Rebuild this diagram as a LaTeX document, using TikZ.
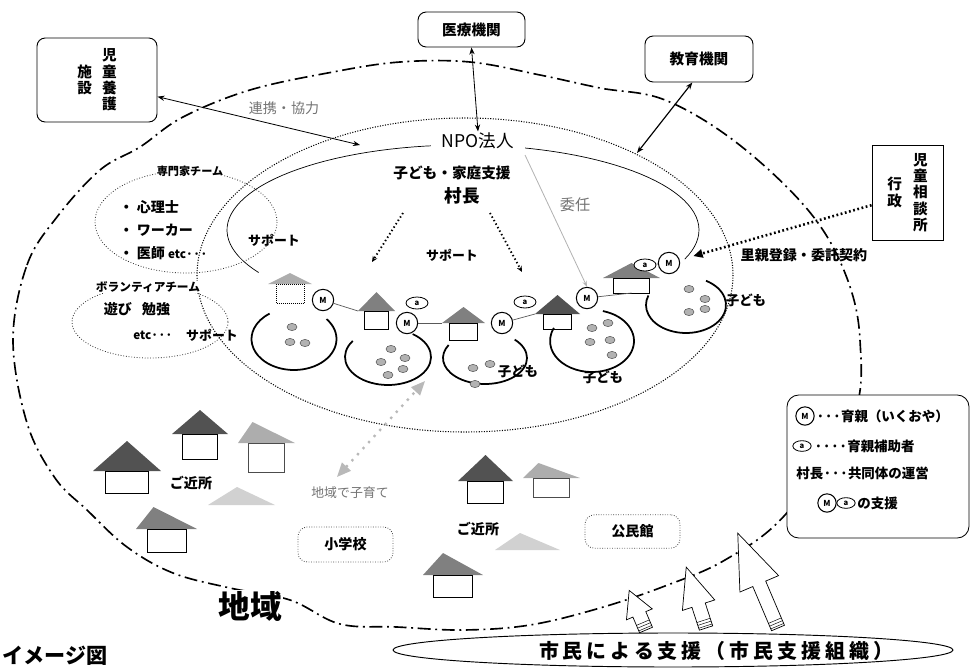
\documentclass[tikz,border=0pt]{standalone}
\usepackage{fontspec}
\setmainfont{Noto Sans CJK JP}
\usetikzlibrary{shapes.geometric,arrows.meta,positioning}

\definecolor{roofdark}{gray}{0.32}
\definecolor{roofmid}{gray}{0.5}
\definecolor{rooflight}{gray}{0.68}
\definecolor{roofpale}{gray}{0.82}
\definecolor{textgray}{gray}{0.45}

% house: name, eave left x, eave y, width, roof height, body height, apex shift, roof colour, body line
\newcommand{\house}[9]{%
  \fill[#8] (#2,#3) -- (#2+#4/2+#7,#3-#5) -- (#2+#4,#3) -- cycle;
  \draw[#9] (#2+0.18*#4,#3) rectangle ++(0.64*#4,#6);
  \coordinate (#1-l) at (#2,#3);
  \coordinate (#1-b) at (#2+0.5*#4,#3+#6);
}
% vertical column of characters
\newcommand{\tate}[1]{\parbox[c]{1em}{\centering #1}}

\tikzset{
  kikan/.style={draw, line width=0.8pt, rounded corners=7pt, fill=white, font=\bfseries\fontsize{12.5}{14}\selectfont},
  shisetsu/.style={draw=gray!60!black, line width=0.7pt, dash pattern=on 0.7pt off 1.4pt, rounded corners=8pt, font=\bfseries\fontsize{12}{14}\selectfont},
  lbl/.style={font=\bfseries\fontsize{11}{13}\selectfont, inner sep=1pt},
  grylbl/.style={font=\fontsize{12}{14}\selectfont, text=textgray, inner sep=1pt},
  oya/.style={circle, draw, line width=0.9pt, fill=white, inner sep=0pt, minimum size=0.64cm, font=\bfseries\fontsize{7}{7}\selectfont},
  hojo/.style={ellipse, draw, line width=0.7pt, fill=white, inner sep=0pt, minimum width=0.66cm, minimum height=0.36cm, font=\bfseries\fontsize{6.5}{7}\selectfont},
  link/.style={{Stealth[length=6pt,width=4.5pt]}-{Stealth[length=6pt,width=4.5pt]}, line width=0.7pt},
  dotarrow/.style={line width=1.6pt, dash pattern=on 1.2pt off 2.2pt, -{Stealth[length=5pt,width=4.5pt]}},
  heavydot/.style={line width=2.2pt, dash pattern=on 1.5pt off 2.2pt, -{Triangle[length=8pt,width=7pt]}, shorten >=12pt},
  ring/.style={line width=1.5pt},
  kid/.style={fill=gray!60, draw=black!70, line width=0.4pt},
  tie/.style={gray!70!black, line width=0.6pt},
  chiiki/.style={line width=1.4pt, dash pattern=on 11pt off 4pt on 1.6pt off 4pt},
  npoline/.style={line width=0.9pt, dash pattern=on 0.9pt off 1.3pt},
  team/.style={line width=0.7pt, dash pattern=on 0.7pt off 1.6pt, gray!40!black},
}

\begin{document}
\begin{tikzpicture}[x=0.03cm, y=-0.03cm]
\useasboundingbox (0,0) rectangle (971,670);

% community boundary
\draw[chiiki] plot[smooth cycle, tension=0.6] coordinates {
  (13,340) (27,265) (57,217) (100,170) (140,147) (183,117) (250,90) (333,72)
  (400,62) (470,62) (540,75) (600,88) (665,100) (737,143) (808,210)
  (845,273) (860,340) (852,420) (785,515) (725,560) (665,586) (600,608)
  (530,625) (463,630) (397,627) (340,624) (290,600) (230,588) (173,573)
  (127,547) (87,510) (55,478) (27,423)};

% NPO and village
\draw[npoline] (465,275) ellipse [x radius=268, y radius=157];
\draw[line width=0.6pt] plot[domain=-20:210, samples=80] ({463+236*cos(\x)}, {230-85*sin(\x)});

% teams
\draw[team] (186,222) ellipse [x radius=91, y radius=51];
\draw[team] (150,322) ellipse [x radius=78, y radius=36];

% outside bodies
\node[kikan, minimum width=3.6cm, minimum height=2.52cm] (yogo) at (97,80) {\tate{施\\設}\hspace{0.3cm}\tate{児\\童\\養\\護}};
\node[kikan, minimum width=3.21cm, minimum height=1.05cm] (iryo) at (471.5,29.5) {医療機関};
\node[kikan, minimum width=3.24cm, minimum height=1.38cm] (kyoiku) at (699,59) {教育機関};
\node[kikan, rounded corners=0pt, minimum width=2.13cm, minimum height=2.85cm] (jiso) at (907.5,192.5) {\tate{行\\政}\hspace{0.33cm}\tate{児\\童\\相\\談\\所}};

% NPO text
\node[font=\fontsize{15}{17}\selectfont, fill=white, inner xsep=9pt, inner ysep=1pt] (npo) at (478,141) {NPO法人};
\node[lbl, font=\bfseries\fontsize{12.5}{14}\selectfont] (shien) at (452,173) {子ども・家庭支援};
\node[lbl, font=\bfseries\fontsize{15}{17}\selectfont] (soncho) at (462,196) {村長};
\node[grylbl] (renkei) at (284,108) {連携・協力};
\node[grylbl, font=\fontsize{13}{15}\selectfont] (inin) at (575,205) {委任};
\node[lbl] (sapo) at (452,255) {サポート};

% specialist team
\node[lbl, font=\bfseries\fontsize{9.5}{11}\selectfont, fill=white] (senmon) at (190,171) {専門家チーム};
\node[lbl, anchor=west, font=\bfseries\fontsize{12}{14}\selectfont] (shinri) at (118,207) {・\hspace{0.1cm}心理士};
\node[lbl, anchor=west, font=\bfseries\fontsize{12}{14}\selectfont] (worker) at (118,230) {・\hspace{0.1cm}ワーカー};
\node[lbl, anchor=west, font=\bfseries\fontsize{12}{14}\selectfont] (ishi) at (118,253) {・\hspace{0.1cm}医師 {\fontsize{10}{12}\selectfont etc···}};
\node[lbl] (sapo-sen) at (274,240) {サポート};

% volunteer team
\node[lbl, font=\bfseries\fontsize{10}{12}\selectfont, fill=white, inner sep=0.5pt] (bora) at (148,287) {ボランティアチーム};
\node[lbl, font=\bfseries\fontsize{12}{14}\selectfont] (asobi) at (137,309) {遊び\hspace{0.3cm}勉強};
\node[lbl, font=\bfseries\fontsize{10}{12}\selectfont] (etc) at (153,335) {etc···};
\node[lbl] (sapo-bora) at (212,335) {サポート};

% foster homes
\house{h1}{268}{284}{44}{11}{19}{0}{rooflight}{densely dotted, line width=0.7pt}
\house{h2}{358}{311}{37}{19}{18}{0}{roofmid}{line width=0.8pt}
\house{h3}{442}{323}{43}{16}{17}{0}{roofmid}{line width=0.8pt}
\house{h4}{535}{314}{45}{19}{15}{0}{roofdark}{line width=0.8pt}
\house{h5}{603}{278}{57}{15}{15}{0}{roofmid}{line width=0.8pt}

\foreach \cx/\cy/\rx/\ry/\a/\b in {294/339/42.5/31/-40/235, 388/357/43/28/-55/215,
    485/358/42/26/-45/210, 592/341/42/31/-75/205, 686/305/40/28/-60/200}
  \draw[ring] (\cx,\cy) ++(\a:{\rx} and {\ry}) arc[start angle=\a, end angle=\b, x radius=\rx, y radius=\ry];

\foreach \x/\y in {292/327, 290/342, 305/343, 391/349, 381/362, 405/358, 403/369, 388/375,
    473/368, 490/364, 475/384, 592/328, 608/323, 590/342, 610/340, 612/355,
    689/289, 705/299, 705/309, 689/312}
  \draw[kid] (\x,\y) ellipse [x radius=5, y radius=3.6];

\node[oya] (m1) at (323,300) {M};
\node[oya] (m2) at (407,323) {M};
\node[oya] (m3) at (502,323) {M};
\node[oya] (m4) at (587,298) {M};
\node[oya] (m5) at (669,263) {M};
\node[hojo] (a2) at (417,303) {a};
\node[hojo] (a3) at (525,302) {a};
\node[hojo] (a5) at (645,265) {a};

\draw[tie] (m1) -- (h2-l);
\draw[tie] (m2) -- (h3-l);
\draw[tie] (m3) -- (h4-l);
\draw[tie] (m4) -- (h5-b);
\draw[tie] (a5) -- (m5);

\node[lbl, font=\bfseries\fontsize{11.5}{13}\selectfont] (ko3) at (518,371) {子ども};
\node[lbl, font=\bfseries\fontsize{11.5}{13}\selectfont] (ko4) at (603,377) {子ども};
\node[lbl, font=\bfseries\fontsize{11.5}{13}\selectfont] (ko5) at (746,300) {子ども};

% links
\coordinate (renkei-e) at (360,145);
\coordinate (kyoiku-e) at (637,153);
\coordinate (inin-s) at (525,155);
\coordinate (sapo-ls) at (403,213);
\coordinate (sapo-le) at (372,262);
\coordinate (sapo-rs) at (490,213);
\coordinate (sapo-re) at (522,272);
\draw[link] ([yshift=-0.5cm]yogo.east) -- (renkei-e);
\draw[link] (iryo.south) -- (npo.north);
\draw[link, line width=1pt] ([xshift=-0.2cm]kyoiku.south) -- (kyoiku-e);
\draw[-{Stealth[length=5pt]}, gray!60, line width=0.7pt] (inin-s) -- (m4.north);
\draw[dotarrow] (sapo-ls) -- (sapo-le);
\draw[dotarrow] (sapo-rs) -- (sapo-re);
\draw[heavydot] ([yshift=-0.38cm]jiso.west) -- (m5);
\node[lbl, font=\bfseries\fontsize{12}{14}\selectfont] (satooya) at (804,255) {里親登録・委託契約};

% neighbourhood
\coordinate (kosodate-t) at (425,381);
\coordinate (kosodate-b) at (337,477);
\draw[gray!55, line width=2pt, dash pattern=on 2pt off 5pt,
  {Triangle[length=12pt,width=10pt]}-{Triangle[length=12pt,width=10pt]}] (kosodate-b) -- (kosodate-t);
\node[grylbl, font=\fontsize{11}{13}\selectfont] (kosodate) at (350,493) {地域で子育て};

\house{hb}{172}{434}{56}{24}{25}{0}{roofdark}{line width=0.8pt}
\house{hc}{238}{443}{57}{21}{29}{-14}{rooflight}{line width=0.8pt, gray!60!black}
\house{hd}{93}{471}{68}{30}{22}{0}{roofdark}{line width=0.8pt}
\house{he}{136}{529}{61}{22}{23}{-13}{roofmid}{line width=0.8pt}
\house{hf}{458}{481}{55}{26}{22}{0}{roofdark}{line width=0.8pt}
\house{hg}{523}{478}{57}{15}{19}{-13}{rooflight}{line width=0.6pt, gray!60!black}
\house{hh}{423}{575}{60}{22}{22}{-10}{roofmid}{line width=0.8pt}
\fill[roofpale] (208,505) -- (237,487) -- (275,505) -- cycle;
\fill[roofpale] (495,550) -- (520,533) -- (560,550) -- cycle;

\node[lbl, font=\bfseries\fontsize{12}{14}\selectfont] (kinjo1) at (191,483) {ご近所};
\node[lbl, font=\bfseries\fontsize{12}{14}\selectfont] (kinjo2) at (478,529) {ご近所};
\node[shisetsu, minimum width=2.85cm, minimum height=1.05cm] (shogakko) at (345.5,544.5) {小学校};
\node[shisetsu, minimum width=2.85cm, minimum height=1cm] (kominkan) at (632.5,531.5) {公民館};

\node[font=\bfseries\fontsize{27}{30}\selectfont, fill=white, inner sep=1pt] (chiiki) at (250,606) {地域};
\node[font=\bfseries\fontsize{18}{20}\selectfont, anchor=west, inner sep=0pt] (zu) at (2,656) {イメージ図};

% legend
\node[draw, line width=0.7pt, rounded corners=10pt, fill=white, minimum width=5.46cm, minimum height=4.29cm] (hanrei) at (878,466.5) {};
\node[oya, minimum size=0.55cm] (lg-m) at (805,416) {M};
\node[lbl, anchor=west, font=\bfseries\fontsize{11.5}{13}\selectfont] (lg-t1) at (815,416) {···育親（いくおや）};
\node[hojo, minimum width=0.55cm, minimum height=0.32cm] (lg-a) at (802,446) {a};
\node[lbl, anchor=west, font=\bfseries\fontsize{11.5}{13}\selectfont] (lg-t2) at (813,446) {····育親補助者};
\node[lbl, anchor=west, font=\bfseries\fontsize{11.5}{13}\selectfont] (lg-t3) at (795,473) {村長···共同体の運営};
\node[oya, minimum size=0.55cm] (lg-m2) at (827,503) {M};
\node[hojo, minimum width=0.55cm, minimum height=0.32cm] (lg-a2) at (846,503) {a};
\node[lbl, anchor=west, font=\bfseries\fontsize{11.5}{13}\selectfont] (lg-t4) at (856,503) {の支援};

% citizens' support
\foreach \x/\y/\a/\L/\H/\W in {646/630/113/43/26/14, 706/628/108/64/40/17, 778/628/113/103/55/21}{
  \begin{scope}[shift={(\x,\y)}, rotate=\a]
    \draw[fill=white, line width=0.6pt] (0,-7) -- (\L-\H,-7) -- (\L-\H,-\W) -- (\L,0)
      -- (\L-\H,\W) -- (\L-\H,7) -- (0,7) -- cycle;
    \foreach \s in {2,5,8} \draw[line width=0.4pt] (\s,-7) -- (\s,7);
  \end{scope}
}
\draw[line width=0.8pt] (673,650) ellipse [x radius=280, y radius=17];
\node[font=\bfseries\fontsize{17}{19}\selectfont\addfontfeatures{LetterSpace=20}] (shimin) at (716,651) {市民による支援（市民支援組織）};
\end{tikzpicture}
\end{document}
